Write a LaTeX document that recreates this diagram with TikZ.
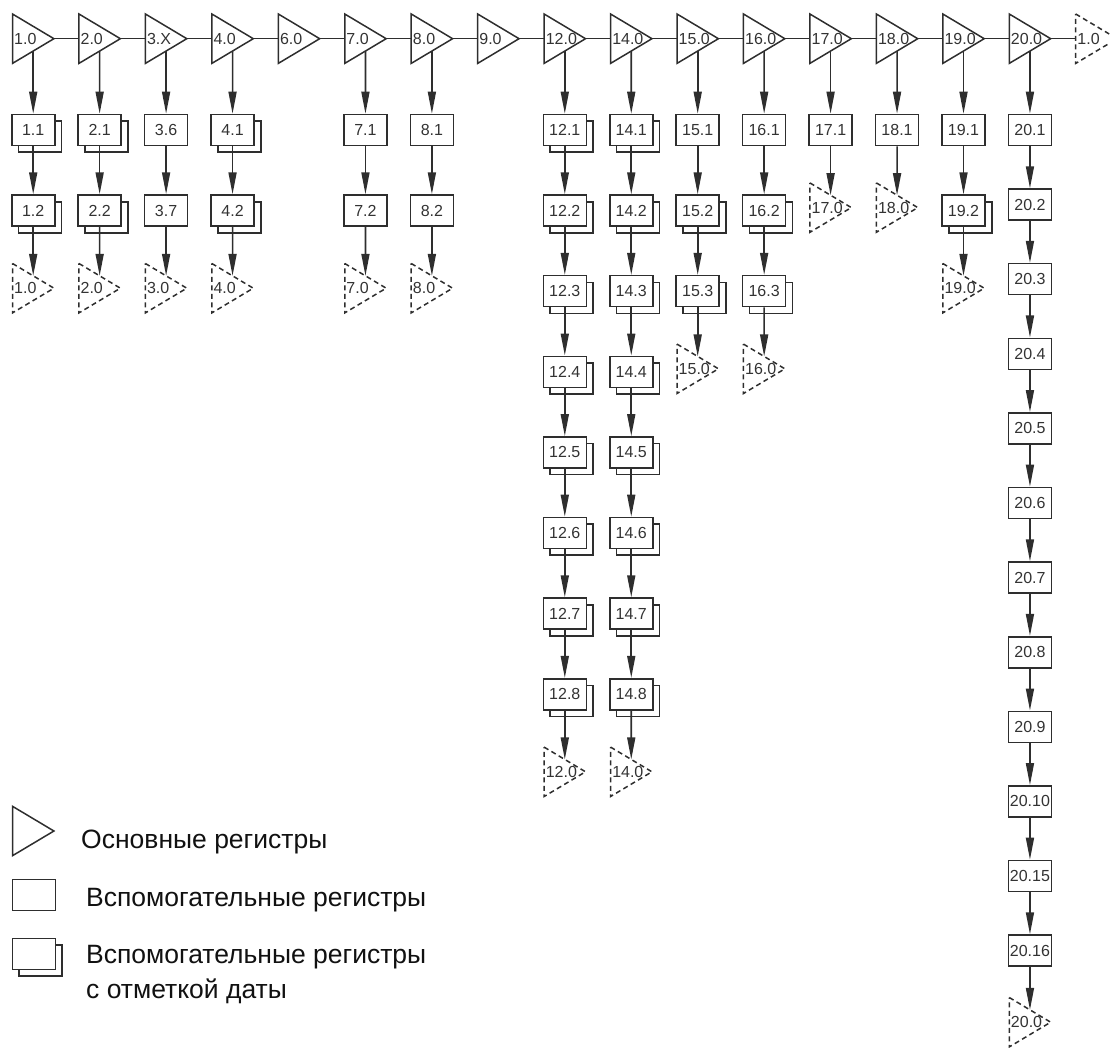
\documentclass[tikz,border=0pt]{standalone}
\usepackage{fontspec}
\setmainfont{Liberation Sans}
\usetikzlibrary{arrows.meta, positioning, shadows, calc}
\definecolor{linecol}{HTML}{2E2E2E}
\definecolor{labelfg}{HTML}{333333}
\definecolor{legendfg}{HTML}{111111}
\tikzset{
    regnode/.style={rectangle, minimum width=41pt, minimum height=49pt, inner xsep=1.5pt, inner ysep=0pt, text width=38pt, align=left, font=\fontsize{16}{16}\selectfont, text=labelfg},
    regtri/.style={draw=linecol, line width=1.5pt, line join=miter},
    dashtri/.style={regtri, dash pattern=on 5pt off 3.5pt},
    auxbox/.style={rectangle, draw=linecol, fill=white, line width=1.6pt, minimum width=43pt, minimum height=31pt, inner sep=0.5pt, font=\fontsize{16}{16}\selectfont, text=labelfg},
    datebox/.style={auxbox, copy shadow={shadow xshift=6.7pt, shadow yshift=-6.7pt, draw=linecol, fill=white, line width=1.6pt}},
    myarrow/.style={-{Triangle[length=22pt, width=8pt]}, linecol, line width=1.6pt},
    regline/.style={linecol, line width=1.5pt},
    legendtext/.style={font=\fontsize{26.5}{35}\selectfont, text=legendfg, align=left, inner sep=0pt},
}
\begin{document}
\begin{tikzpicture}[x=1pt, y=-1pt]
\useasboundingbox (0,0) rectangle (1110,1048);
\foreach \lab [count=\k from 0] in {1.0,2.0,3.X,4.0,6.0,7.0,8.0,9.0,12.0,14.0,15.0,16.0,17.0,18.0,19.0,20.0} {
    \node[regnode] (t\k) at ({33.2+66.45*\k}, 38.7) {\lab};
    \draw[regtri] (t\k.north west) -- (t\k.east) -- (t\k.south west) -- cycle;
}
\node[regnode] (tend) at ({33.2+66.45*16}, 38.7) {1.0};
\draw[dashtri] (tend.north west) -- (tend.east) -- (tend.south west) -- cycle;
\foreach \i [evaluate=\i as \j using int(\i+1)] in {0,...,14}
    \draw[regline] (t\i.east) -- (t\j.west);
\draw[regline] (t15.east) -- (tend.west);
\foreach \c/\gap/\n/\elab/\list in {
    0/80.6/2/1.0/{1.1/datebox,1.2/datebox},
    1/80.6/2/2.0/{2.1/datebox,2.2/datebox},
    2/80.6/2/3.0/{3.6/auxbox,3.7/auxbox},
    3/80.6/2/4.0/{4.1/datebox,4.2/datebox},
    5/80.6/2/7.0/{7.1/auxbox,7.2/auxbox},
    6/80.6/2/8.0/{8.1/auxbox,8.2/auxbox},
    8/80.6/8/12.0/{12.1/datebox,12.2/datebox,12.3/datebox,12.4/datebox,12.5/datebox,12.6/datebox,12.7/datebox,12.8/datebox},
    9/80.6/8/14.0/{14.1/datebox,14.2/datebox,14.3/datebox,14.4/datebox,14.5/datebox,14.6/datebox,14.7/datebox,14.8/datebox},
    10/80.6/3/15.0/{15.1/auxbox,15.2/datebox,15.3/datebox},
    11/80.6/3/16.0/{16.1/auxbox,16.2/datebox,16.3/datebox},
    12/80.6/1/17.0/{17.1/auxbox},
    13/80.6/1/18.0/{18.1/auxbox},
    14/80.6/2/19.0/{19.1/auxbox,19.2/datebox},
    15/74.6/12/20.0/{20.1/auxbox,20.2/auxbox,20.3/auxbox,20.4/auxbox,20.5/auxbox,20.6/auxbox,20.7/auxbox,20.8/auxbox,20.9/auxbox,20.10/auxbox,20.15/auxbox,20.16/auxbox}} {
    \foreach \lab/\sty [count=\r] in \list
        \node[\sty] (c\c-\r) at ($(t\c)+(0,{91.3+\gap*(\r-1)})$) {\lab};
    \node[regnode] (e\c) at ($(t\c)+(0,{91.3+\gap*\n-3})$) {\elab};
    \draw[dashtri] (e\c.north west) -- (e\c.east) -- (e\c.south west) -- cycle;
    \draw[myarrow] ($(t\c.east)!0.5!(t\c.south west)$) -- (c\c-1.north);
    \ifnum\n>1
        \foreach \r [evaluate=\r as \p using int(\r-1)] in {2,...,\n}
            \draw[myarrow] (c\c-\p.south) -- (c\c-\r.north);
    \fi
    \draw[myarrow] (c\c-\n.south) -- ($(e\c.north west)!0.5!(e\c.east)$);
}
\node[regnode] (legtri) at (33.2, 831) {};
\draw[regtri] (legtri.north west) -- (legtri.east) -- (legtri.south west) -- cycle;
\node[auxbox] (legaux) at (34, 895) {};
\node[datebox] (legdate) at (34, 954) {};
\node[legendtext, anchor=base west] (legtri text) at (81, 848) {Основные регистры};
\node[legendtext, anchor=base west] (legaux text) at (86, 906) {Вспомогательные регистры};
\node[legendtext, anchor=base west] (legdate text) at (86, 998) {Вспомогательные регистры\\с отметкой даты};
\end{tikzpicture}
\end{document}
